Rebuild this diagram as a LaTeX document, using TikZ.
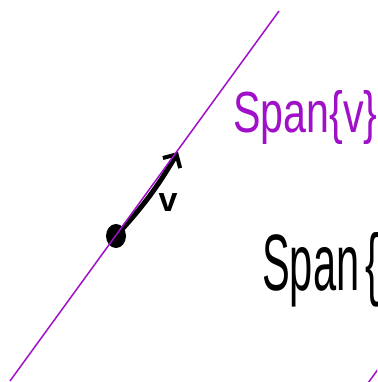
\documentclass[tikz,border=0pt]{standalone}
\usepackage{fontspec}
\setmainfont{Liberation Sans}
\usetikzlibrary{arrows.meta,shapes.geometric}
\definecolor{spanpurple}{RGB}{160,16,200}
\tikzset{
  spanline/.style={draw=spanpurple, line width=1.5pt},
  hand/.style={inner sep=0pt, anchor=base west},
}
\begin{document}
\begin{tikzpicture}[x=1pt,y=-1pt]
\useasboundingbox (0,0) rectangle (377,382);
\clip (0,0) rectangle (377,382);
\fill[white] (0,0) rectangle (377,382);
% vector (under the line)
\node[ellipse, fill=black, inner sep=0pt, minimum width=20pt, minimum height=24pt] (o) at (116,236) {};
\coordinate (t) at (178,152);
\draw[line width=5pt, line cap=round, -{Straight Barb[length=10pt,width=20pt,line width=4pt]}] (o.center) to[bend right=6] (t);
% purple lines
\coordinate (l1a) at (10,381);
\coordinate (l1b) at (279,11);
\coordinate (l2a) at (368,383);
\coordinate (l2b) at (400,339);
\draw[spanline] (l1a) -- (l1b);
\draw[spanline] (l2a) -- (l2b);
\node[inner sep=0pt, font=\bfseries\fontsize{34}{34}\selectfont] (v) at (168,203) {v};
% labels
\node[hand, text=spanpurple, font=\fontsize{58}{58}\selectfont] (spanv) at (233,132) {\scalebox{0.71}[1]{Span\{v\}}};
\node[hand, text=black, font=\fontsize{80}{80}\selectfont] (spanw) at (262,290) {\scalebox{0.52}[1]{Span\hspace{12pt}\{}};
\end{tikzpicture}
\end{document}
